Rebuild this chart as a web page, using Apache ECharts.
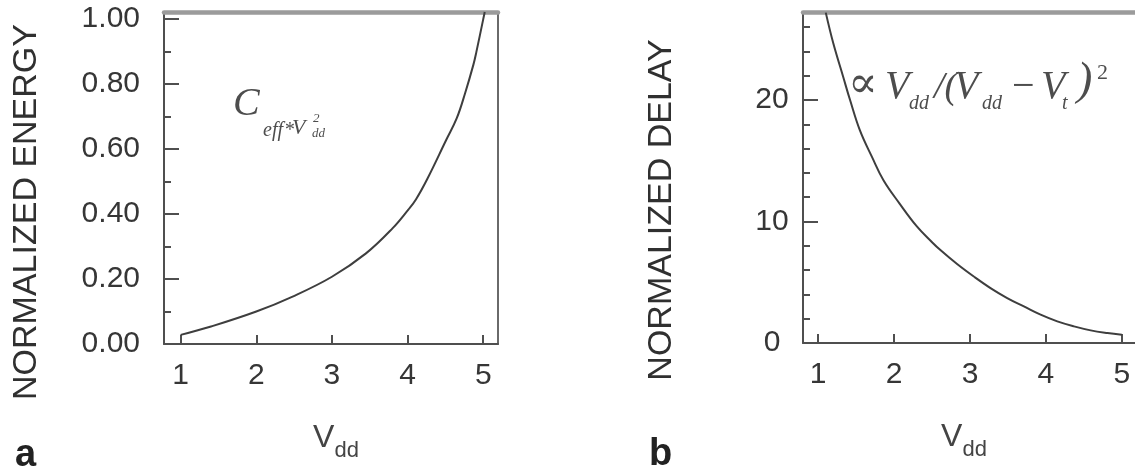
<!DOCTYPE html>
<html>
<head>
<meta charset="utf-8">
<script src="https://cdn.jsdelivr.net/npm/echarts@6/dist/echarts.min.js"></script>
<style>
  html, body { margin: 0; padding: 0; background: #ffffff; }
  #chart { width: 1135px; height: 474px; }
</style>
</head>
<body>
<div id="chart"></div>
<script>
// ---- data ----
const energyV = [1.0, 1.39, 2.0, 2.48, 3.0, 3.45, 3.8, 4.01, 4.11, 4.26, 4.51, 4.65, 4.76, 4.87, 4.91, 5.0, 5.02];
const energyE = [0.028, 0.053, 0.10, 0.146, 0.207, 0.279, 0.356, 0.414, 0.445, 0.508, 0.628, 0.695, 0.772, 0.86, 0.90, 1.0, 1.022];

const delayV = [1.10, 1.20, 1.33, 1.42, 1.55, 1.71, 1.86, 2.07, 2.30, 2.50, 2.61, 2.83, 3.05, 3.27, 3.49, 3.71, 3.93, 4.15, 4.37, 4.59, 4.81, 5.0];
const delayD = [27.2, 24.65, 21.9, 20.0, 17.5, 15.3, 13.4, 11.5, 9.6, 8.3, 7.65, 6.5, 5.47, 4.52, 3.70, 3.01, 2.33, 1.78, 1.37, 1.04, 0.82, 0.68];

const xTicks = [1, 2, 3, 4, 5];
const xTickLabels = ['1', '2', '3', '4', '5'];
const energyTicks = [0, 0.2, 0.4, 0.6, 0.8, 1.0];
const energyTickLabels = ['0.00', '0.20', '0.40', '0.60', '0.80', '1.00'];
const energyMinorTicks = [0.1, 0.3, 0.5, 0.7, 0.9];
const delayTicks = [0, 10, 20];
const delayTickLabels = ['0', '10', '20'];
const delayMinorTicks = [2, 4, 6, 8, 12, 14, 16, 18, 22, 24, 26];

// ---- styling ----
const SANS = '"Liberation Sans", Arial, sans-serif';
const SERIF = '"Liberation Serif", "DejaVu Serif", serif';
const AXIS_COLOR = '#4f4f4f';
const TOP_COLOR = '#9b9b9b';
const LABEL_COLOR = '#363636';
const FORMULA_COLOR = '#4d4d4d';

function lookup(values, labels) {
  return function (v) {
    for (let i = 0; i < values.length; i++) {
      if (Math.abs(values[i] - v) < 1e-9) return labels[i];
    }
    return '';
  };
}

function bottomX(grid, min, max, nameRich) {
  return {
    gridIndex: grid, type: 'value', position: 'bottom', min: min, max: max,
    axisLine: { show: true, onZero: false, lineStyle: { color: AXIS_COLOR, width: 2 } },
    axisTick: { show: true, inside: true, length: 9, customValues: xTicks, lineStyle: { color: AXIS_COLOR, width: 2 } },
    axisLabel: { show: true, customValues: xTicks, formatter: lookup(xTicks, xTickLabels), margin: 17,
      fontSize: 30, fontFamily: SANS, color: LABEL_COLOR },
    splitLine: { show: false },
    name: '{v|V}{s|dd}', nameLocation: 'middle', nameGap: 86,
    nameTextStyle: { rich: nameRich }
  };
}
function topX(grid, min, max) {
  return {
    gridIndex: grid, type: 'value', position: 'top', min: min, max: max,
    axisLine: { show: true, onZero: false, lineStyle: { color: TOP_COLOR, width: 4.5 } },
    axisTick: { show: false }, axisLabel: { show: false }, splitLine: { show: false }
  };
}
function leftY(grid, min, max, ticks, labels, name, gap, shift, align, margin) {
  return {
    gridIndex: grid, type: 'value', position: 'left', min: min, max: max,
    axisLine: { show: true, onZero: false, lineStyle: { color: AXIS_COLOR, width: 2 } },
    axisTick: { show: true, inside: true, length: 15, customValues: ticks, lineStyle: { color: AXIS_COLOR, width: 2 } },
    axisLabel: { show: true, customValues: ticks, formatter: lookup(ticks, labels), margin: margin, align: align,
      fontSize: 30, fontFamily: SANS, color: LABEL_COLOR },
    splitLine: { show: false },
    name: name, nameLocation: 'middle', nameRotate: 90, nameGap: gap,
    nameTextStyle: { fontSize: 34, fontFamily: SANS, color: '#303030', padding: [0, shift, 0, 0] }
  };
}
function minorY(grid, min, max, ticks) {
  return {
    gridIndex: grid, type: 'value', position: 'left', min: min, max: max,
    axisLine: { show: false },
    axisTick: { show: true, inside: true, length: 7, customValues: ticks, lineStyle: { color: AXIS_COLOR, width: 2 } },
    axisLabel: { show: false }, splitLine: { show: false }
  };
}
function rightY(grid, min, max) {
  return {
    gridIndex: grid, type: 'value', position: 'right', min: min, max: max,
    axisLine: { show: true, onZero: false, lineStyle: { color: '#6a6a6a', width: 2 } },
    axisTick: { show: false }, axisLabel: { show: false }, splitLine: { show: false }
  };
}

function formulaPiece(text, x, baseline, size, italic) {
  return {
    type: 'text', silent: true,
    style: {
      text: text, x: x, y: baseline - 0.31 * size,
      fontSize: size, fontFamily: SERIF, fontStyle: italic ? 'italic' : 'normal',
      fill: FORMULA_COLOR, textAlign: 'left', textVerticalAlign: 'middle', align: 'left', verticalAlign: 'middle'
    }
  };
}
function panelLetter(text, x, baseline, size) {
  return {
    type: 'text', silent: true,
    style: {
      text: text, x: x, y: baseline - 0.31 * size, fontSize: size, fontWeight: 'bold', fontFamily: SANS, fill: '#222',
      textAlign: 'left', textVerticalAlign: 'middle', align: 'left', verticalAlign: 'middle'
    }
  };
}

const nameRichA = {
  v: { fontSize: 32, lineHeight: 32, fontFamily: SANS, color: '#444', verticalAlign: 'bottom', padding: [0, 0, 8, 10] },
  s: { fontSize: 22, lineHeight: 22, fontFamily: SANS, color: '#444', verticalAlign: 'bottom' }
};
const nameRichB = {
  v: { fontSize: 32, lineHeight: 32, fontFamily: SANS, color: '#444', verticalAlign: 'bottom', padding: [0, 0, 8, 0] },
  s: { fontSize: 22, lineHeight: 22, fontFamily: SANS, color: '#444', verticalAlign: 'bottom', padding: [0, 12, 0, 0] }
};

const EX = [0.78, 5.195];
const DX = [0.80, 5.20];
const EY = [0, 1.022];
const DY = [0, 27.25];

const option = {
  backgroundColor: '#ffffff',
  animation: false,
  grid: [
    { left: 164, top: 12, width: 334, height: 332, outerBoundsMode: 'none', containLabel: false },
    { left: 803, top: 12, width: 334, height: 331, outerBoundsMode: 'none', containLabel: false }
  ],
  xAxis: [
    bottomX(0, EX[0], EX[1], nameRichA),
    topX(0, EX[0], EX[1]),
    bottomX(1, DX[0], DX[1], nameRichB),
    topX(1, DX[0], DX[1])
  ],
  yAxis: [
    leftY(0, EY[0], EY[1], energyTicks, energyTickLabels, 'NORMALIZED ENERGY', 120, 68, 'right', 24),
    minorY(0, EY[0], EY[1], energyMinorTicks),
    rightY(0, EY[0], EY[1]),
    leftY(1, DY[0], DY[1], delayTicks, delayTickLabels, 'NORMALIZED DELAY', 124, 65, 'center', 31),
    minorY(1, DY[0], DY[1], delayMinorTicks),
    rightY(1, DY[0], DY[1])
  ],
  series: [
    {
      type: 'line', name: 'energy', xAxisIndex: 0, yAxisIndex: 0,
      data: energyV.map((v, i) => [v, energyE[i]]),
      showSymbol: false, smooth: 0.4, clip: true,
      lineStyle: { color: '#3e3e3e', width: 2 }
    },
    {
      type: 'line', name: 'delay', xAxisIndex: 2, yAxisIndex: 3,
      data: delayV.map((v, i) => [v, delayD[i]]),
      showSymbol: false, smooth: 0.4, clip: true,
      lineStyle: { color: '#3e3e3e', width: 2 }
    }
  ],
  graphic: [
    // C_eff*V^2_dd
    formulaPiece('C', 233, 117, 40, true),
    formulaPiece('eff', 263, 137, 20, true),
    formulaPiece('*', 284, 137, 20, true),
    formulaPiece('V', 292, 135, 22, true),
    formulaPiece('2', 313, 123, 13, true),
    formulaPiece('dd', 312, 138, 13, true),
    // ∝ V_dd /(V_dd − V_t)^2
    formulaPiece('\u221D', 848, 99, 44, false),
    formulaPiece('V', 885, 100, 40, true),
    formulaPiece('dd', 909, 110, 20, true),
    formulaPiece('/(', 934, 100, 38, true),
    formulaPiece('V', 954, 100, 40, true),
    formulaPiece('dd', 982, 110, 20, true),
    formulaPiece('\u2212', 1012, 100, 40, false),
    formulaPiece('V', 1041, 100, 40, true),
    formulaPiece('t', 1062, 110, 20, true),
    formulaPiece(')', 1077, 96, 46, true),
    formulaPiece('2', 1097, 80, 22, false),
    // panel letters
    panelLetter('a', 15, 467, 38),
    panelLetter('b', 649, 466, 38)
  ]
};

const chart = echarts.init(document.getElementById('chart'), null, { renderer: 'canvas' });
chart.setOption(option);
</script>
</body>
</html>
